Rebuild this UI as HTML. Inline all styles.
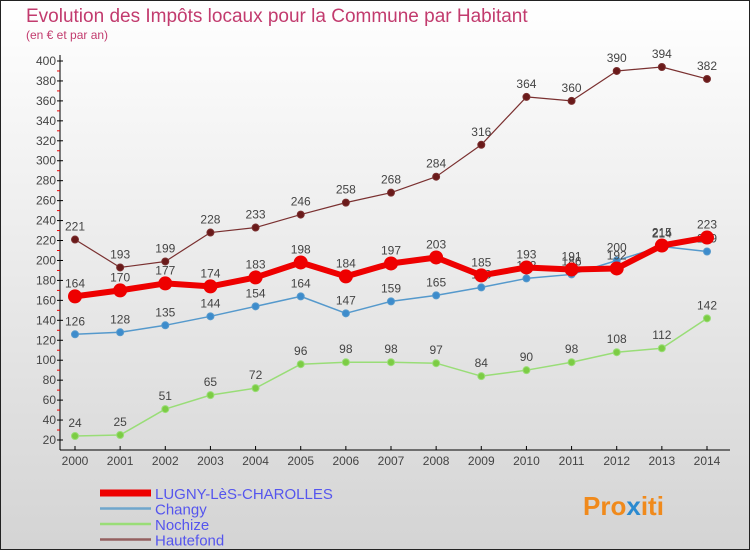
<!DOCTYPE html>
<html><head><meta charset="utf-8"><style>
body{margin:0;width:750px;height:550px;overflow:hidden;font-family:"Liberation Sans",sans-serif}
</style></head><body>
<svg width="750" height="550" xmlns="http://www.w3.org/2000/svg" font-family="Liberation Sans, sans-serif">
<defs><linearGradient id="bg" x1="0" y1="0" x2="0" y2="1"><stop offset="0" stop-color="#ffffff"/><stop offset="1" stop-color="#d4d4d4"/></linearGradient></defs>
<rect x="0.5" y="0.5" width="749" height="549" fill="url(#bg)" stroke="#222"/>
<text x="26" y="22" font-size="19" fill="#c23b6e">Evolution des Impôts locaux pour la Commune par Habitant</text>
<text x="26" y="39" font-size="12" fill="#c23b6e">(en € et par an)</text>
<g id="axes"></g><g id="series"></g><g id="legend"></g>
<text x="583" y="515" font-size="26" font-weight="bold" fill="#f08a1c">Pro<tspan fill="#2a8ad0">x</tspan>iti</text>
</svg>
<script>
const years=[2000,2001,2002,2003,2004,2005,2006,2007,2008,2009,2010,2011,2012,2013,2014];
const yTicks=[20,40,60,80,100,120,140,160,180,200,220,240,260,280,300,320,340,360,380,400];
const lugny=[164,170,177,174,183,198,184,197,203,185,193,191,192,215,223];
const changy=[126,128,135,144,154,164,147,159,165,173,182,186,200,214,209];
const nochize=[24,25,51,65,72,96,98,98,97,84,90,98,108,112,142];
const hautefond=[221,193,199,228,233,246,258,268,284,316,364,360,390,394,382];
const NS="http://www.w3.org/2000/svg";
function X(i){return 75+i*(707-75)/(years.length-1);}
function Y(v){return 440-(v-20)*(440-61)/380;}
function mk(t,a,p){const e=document.createElementNS(NS,t);for(const k in a)e.setAttribute(k,a[k]);(p||document.getElementById('series')).appendChild(e);return e;}
const ax=document.getElementById('axes');
let e=mk('line',{x1:60,y1:55,x2:60,y2:450,stroke:'#000'},ax);

e=mk('line',{x1:60,y1:450,x2:730,y2:450,stroke:'#000'},ax);

yTicks.forEach(v=>{mk('line',{x1:57,y1:Y(v),x2:63,y2:Y(v),stroke:'#000'},ax);
 if(v<400)mk('line',{x1:57,y1:Y(v+10),x2:60,y2:Y(v+10),stroke:'#e00'},ax);
 const t=mk('text',{x:56,y:Y(v)+4,'font-size':12,'text-anchor':'end',fill:'#444'},ax);t.textContent=v;
 });
years.forEach((y,i)=>{mk('line',{x1:X(i),y1:446,x2:X(i),y2:450,stroke:'#000'},ax);
 const t=mk('text',{x:X(i),y:465,'font-size':12,'text-anchor':'middle',fill:'#444'},ax);t.textContent=y;
 });
function series(name,data,col,w,r,dot){
 const g=mk('g',{});
 const pts=data.map((v,i)=>X(i)+','+Y(v)).join(' ');
 mk('polyline',{points:pts,fill:'none',stroke:col,'stroke-width':w,'stroke-linejoin':'round'},g);
 data.forEach((v,i)=>{const c=mk('circle',{cx:X(i),cy:Y(v),r:r,fill:dot,stroke:col,'stroke-width':1},g);
  
  const t=mk('text',{x:X(i),y:Y(v)-9,'font-size':12,'text-anchor':'middle',fill:'#444'},g);t.textContent=v;
  });
}
series('nochize',nochize,'#99dd77',1.5,3.5,'#7ccc44');
series('hautefond',hautefond,'#7a3030',1.2,3.5,'#6a1a1a');
series('changy',changy,'#5599cc',1.5,3.5,'#3d8ccc');
series('lugny',lugny,'#ee0000',6,6.5,'#ee0000');
const lg=document.getElementById('legend');
[['LUGNY-LèS-CHAROLLES','#ee0000',7],['Changy','#6fa6cc',2.5],['Nochize','#99dd77',2.5],['Hautefond','#946060',2.5]].forEach((d,i)=>{
 const y=493+i*15.5;
 const l=mk('line',{x1:100,y1:y,x2:151,y2:y,stroke:d[1],'stroke-width':d[2]},lg);
 
 const t=mk('text',{x:155,y:y+6,'font-size':15,fill:'#5555ee'},lg);t.textContent=d[0];
 
});
</script>
</body></html>
